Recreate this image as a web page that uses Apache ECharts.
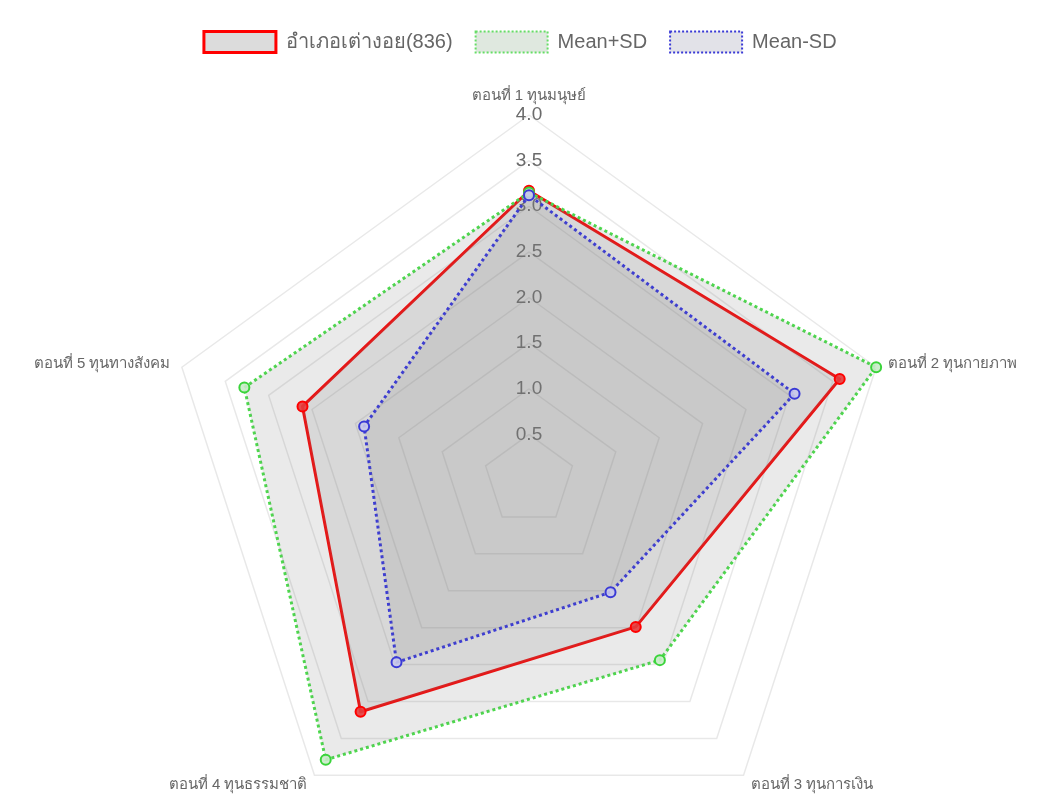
<!DOCTYPE html>
<html>
<head>
<meta charset="utf-8">
<script src="https://cdn.jsdelivr.net/npm/echarts@6/dist/echarts.min.js"></script>
<style>
html,body{margin:0;padding:0;background:#fff;}
#chart{width:1039px;height:804px;}
</style>
</head>
<body>
<div id="chart"></div>
<script>
var categories = ['ตอนที่ 1 ทุนมนุษย์', 'ตอนที่ 2 ทุนกายภาพ', 'ตอนที่ 3 ทุนการเงิน', 'ตอนที่ 4 ทุนธรรมชาติ', 'ตอนที่ 5 ทุนทางสังคม'];
var seriesNames = ['อำเภอเต่างอย(836)', 'Mean+SD', 'Mean-SD'];
var district = [3.17, 3.58, 1.99, 3.14, 2.61];
var meanPlusSD = [3.15, 4.0, 2.44, 3.79, 3.28];
var meanMinusSD = [3.12, 3.06, 1.52, 2.47, 1.90];
var axisMax = 4;
var axisSplits = 8;

// ECharts lays radar indicators counter-clockwise; the reference goes clockwise.
var order = [0, 4, 3, 2, 1];
function reorder(arr) { return order.map(function (i) { return arr[i]; }); }

var fontFam = 'Arial, "Liberation Sans", "Noto Sans", sans-serif';
var fill = 'rgba(125,125,125,0.23)';

var indicators = reorder(categories).map(function (name, i) {
  var ind = { name: name, min: 0, max: axisMax };
  if (i === 0) {
    ind.axisLabel = {
      show: true, showMinLabel: false, showMaxLabel: true,
      color: '#6a6a6a', fontSize: 19, fontFamily: fontFam,
      margin: 0, align: 'center', verticalAlign: 'middle',
      formatter: function (v) { return Number(v).toFixed(1); }
    };
  }
  return ind;
});

var styles = [
  { line: { color: '#ff0000', width: 3, type: 'solid' }, sym: '#ff0000', symFill: 'rgba(230,60,60,0.9)',
    legend: { color: '#dcdcdc', borderColor: '#ff0000', borderWidth: 3, borderType: 'solid' } },
  { line: { color: '#4cdb4c', width: 3, type: 'dotted' }, sym: '#3ad43a', symFill: 'rgba(200,235,200,0.9)',
    legend: { color: '#dfe8df', borderColor: '#66dd66', borderWidth: 2, borderType: 'dotted' } },
  { line: { color: '#3a3ad6', width: 3, type: 'dotted' }, sym: '#3a3ad6', symFill: 'rgba(200,200,235,0.9)',
    legend: { color: '#e2e2e8', borderColor: '#3a3ad6', borderWidth: 2, borderType: 'dotted' } }
];
var values = [district, meanPlusSD, meanMinusSD];

var chart = echarts.init(document.getElementById('chart'), null, { renderer: 'canvas' });
chart.setOption({
  backgroundColor: '#fff',
  animation: false,
  legend: {
    top: 25, left: 'center', itemWidth: 72, itemHeight: 21, itemGap: 22,
    textStyle: { color: '#666', fontSize: 20, fontFamily: fontFam, padding: [0, 0, 0, 5] },
    data: seriesNames.map(function (n, i) {
      return { name: n, icon: 'rect', itemStyle: styles[i].legend };
    })
  },
  radar: {
    center: [529, 480],
    radius: 365,
    startAngle: 90,
    splitNumber: axisSplits,
    shape: 'polygon',
    indicator: indicators,
    axisName: { color: '#666', fontSize: 15, fontFamily: fontFam },
    nameGap: 12,
    axisLine: { show: false },
    axisTick: { show: false },
    axisLabel: { show: false },
    splitArea: { show: false },
    splitLine: { lineStyle: { color: 'rgba(0,0,0,0.09)', width: 1.5 } }
  },
  series: [{
    type: 'radar',
    symbol: 'circle',
    symbolSize: 10,
    data: seriesNames.map(function (n, i) {
      return {
        name: n,
        value: reorder(values[i]),
        lineStyle: styles[i].line,
        areaStyle: { color: fill },
        itemStyle: { color: styles[i].symFill, borderColor: styles[i].sym, borderWidth: 2 }
      };
    })
  }]
});
</script>
</body>
</html>
